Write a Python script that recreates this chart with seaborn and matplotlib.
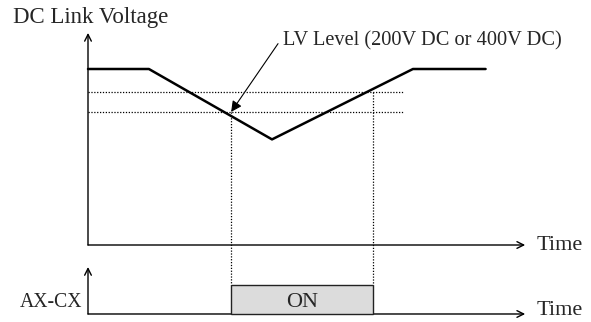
import numpy as np
import pandas as pd
import matplotlib
matplotlib.use("Agg")
import matplotlib.pyplot as plt
from matplotlib.patches import Rectangle
import seaborn as sns

# DC link voltage profile (time in arbitrary units, voltage in % of nominal)
t_profile = [0, 1.4, 4.23, 7.47, 9.14]
v_profile = [100, 100, 60, 100, 100]
lv_levels = [86.9, 75.6]          # the two LV detection levels (dotted)
lv_level_end = 7.26
t_trip = 3.29                     # AX-CX turns on
t_restore = 6.55                  # AX-CX turns off
t_axis_end = 10.05
v_axis_top = 120.5

# relay trace drawn below the voltage trace
relay_base = -39.2
relay_on = 16.5
relay_axis_top = -12.5

sns.set_theme(style="white")
plt.rcParams["font.family"] = ["Liberation Serif", "DejaVu Serif"]

fig = plt.figure(figsize=(5.91, 3.22), dpi=100)
ax = fig.add_axes([0, 0, 1, 1])
ax.set_xlim(-88 / 43.5, (591 - 88) / 43.5)
ax.set_ylim(-77 / 1.76, 245 / 1.76)
ax.axis("off")

df = pd.DataFrame({"t": t_profile, "v": v_profile})
sns.lineplot(data=df, x="t", y="v", ax=ax, color="black", lw=1.8, sort=False)

dot = (0, (1, 1.3))
for lv in lv_levels:
    ax.plot([0, lv_level_end], [lv, lv], color="black", lw=0.9, ls=dot)

# vertical dotted markers from the crossing points down to the relay
ax.plot([t_trip, t_trip], [lv_levels[1], relay_base + relay_on], color="black", lw=0.9, ls=dot)
ax.plot([t_restore, t_restore], [lv_levels[0], relay_base + relay_on], color="black", lw=0.9, ls=dot)

# axes with arrows
arrow = dict(arrowstyle="->", lw=1.0, color="black", shrinkA=0, shrinkB=0,
             mutation_scale=12)
ax.annotate("", xy=(0, v_axis_top), xytext=(0, 0), arrowprops=arrow)
ax.annotate("", xy=(t_axis_end, 0), xytext=(0, 0), arrowprops=arrow)
ax.annotate("", xy=(0, relay_axis_top), xytext=(0, relay_base), arrowprops=arrow)
ax.annotate("", xy=(t_axis_end, relay_base), xytext=(0, relay_base), arrowprops=arrow)

# ON box
ax.add_patch(Rectangle((t_trip, relay_base), t_restore - t_trip, relay_on,
                       facecolor="#dcdcdc", edgecolor="#222222", lw=1.0, zorder=3))
ax.text((t_trip + t_restore) / 2, -35.2, "ON", ha="center", va="baseline",
        fontsize=16, zorder=4)

# labels
ax.text(-1.724, 126.1, "DC Link Voltage", ha="left", va="baseline", fontsize=16.5)
ax.text(10.32, -2.84, "Time", ha="left", va="baseline", fontsize=16)
ax.text(10.32, -39.8, "Time", ha="left", va="baseline", fontsize=16)
ax.text(-0.14, -35.2, "AX-CX", ha="right", va="baseline", fontsize=14.2)

ax.annotate("LV Level (200V DC or 400V DC)", xy=(t_trip, lv_levels[1]),
            xytext=(4.48, 113.6), ha="left", va="baseline", fontsize=14.7,
            arrowprops=dict(arrowstyle="-|>", lw=0.8, color="black",
                            shrinkA=2, shrinkB=0, mutation_scale=16,
                            relpos=(0, 0.7)))

fig.savefig("out.png", dpi=100)
